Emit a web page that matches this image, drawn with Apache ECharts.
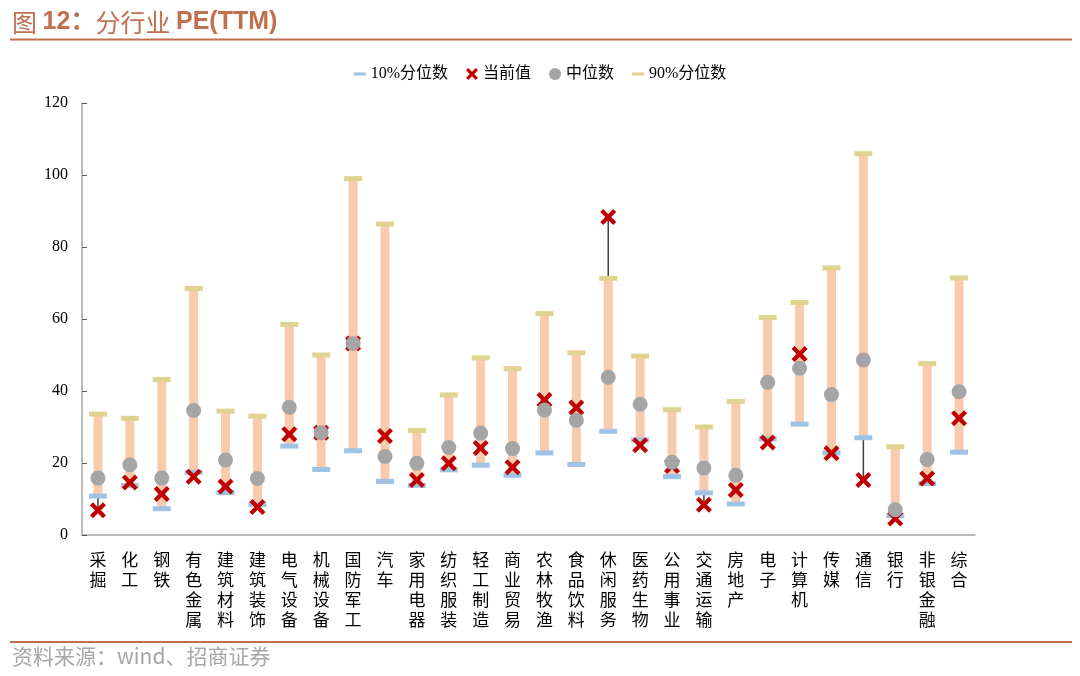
<!DOCTYPE html>
<html>
<head>
<meta charset="utf-8">
<script src="https://cdn.jsdelivr.net/npm/echarts@6/dist/echarts.min.js"></script>
<style>
  html, body { margin: 0; padding: 0; background: #fff; }
  #main { width: 1080px; height: 676px; }
</style>
</head>
<body>
<div id="main"></div>
<script>
var categories = ['采掘', '化工', '钢铁', '有色金属', '建筑材料', '建筑装饰', '电气设备', '机械设备', '国防军工', '汽车',
    '家用电器', '纺织服装', '轻工制造', '商业贸易', '农林牧渔', '食品饮料', '休闲服务', '医药生物', '公用事业', '交通运输',
    '房地产', '电子', '计算机', '传媒', '通信', '银行', '非银金融', '综合'];
var p10 = [10.8, 13.7, 7.3, 17.4, 11.8, 8.5, 24.7, 18.2, 23.4, 14.9, 13.8, 18.1, 19.4, 16.6, 22.8, 19.6, 28.8, 26.4, 16.2, 11.7,
    8.6, 26.7, 30.8, 22.8, 27.0, 5.4, 14.3, 23.0];
var current = [6.9, 14.6, 11.4, 16.2, 13.5, 7.8, 28.0, 28.4, 53.2, 27.5, 15.3, 19.9, 24.2, 18.8, 37.5, 35.4, 88.3, 24.9, 19.2, 8.4,
    12.5, 25.7, 50.3, 22.7, 15.3, 4.6, 15.7, 32.4];
var median = [15.8, 19.5, 15.8, 34.6, 20.8, 15.7, 35.5, 28.4, 53.2, 21.8, 19.9, 24.3, 28.3, 24.0, 34.7, 31.9, 43.8, 36.3, 20.2, 18.6,
    16.6, 42.4, 46.3, 39.0, 48.6, 7.0, 21.0, 39.8];
var p90 = [33.6, 32.4, 43.2, 68.5, 34.4, 33.0, 58.5, 50.0, 99.0, 86.4, 29.0, 38.9, 49.2, 46.2, 61.5, 50.6, 71.3, 49.7, 34.8, 30.0,
    37.1, 60.4, 64.6, 74.2, 105.9, 24.5, 47.6, 71.4];
var yTicks = [0, 20, 40, 60, 80, 100, 120];

var accent = '#c0704f';
var serif = "'Liberation Serif', 'Noto Sans CJK SC', serif";
var cross = 'path://M0,3L3,0L8,5L13,0L16,3L11,8L16,13L13,16L8,11L3,16L0,13L5,8Z';
var dash = 'path://M0,0L0,0M0,6L16,6L16,10L0,10ZM16,16L16,16';

var rangeData = categories.map(function (c, i) {
    var all = [p10[i], current[i], median[i], p90[i]];
    return [i, p10[i], p90[i], Math.min.apply(null, all), Math.max.apply(null, all)];
});

// black high-low line first, then the pink 10%-90% bar on top of it
function renderRange(params, api) {
    var x = api.value(0);
    var lo = api.coord([x, api.value(1)]);
    var hi = api.coord([x, api.value(2)]);
    var mn = api.coord([x, api.value(3)]);
    var mx = api.coord([x, api.value(4)]);
    var w = 9;
    return {
        type: 'group',
        children: [{
            type: 'line',
            shape: { x1: mn[0], y1: mn[1], x2: mx[0], y2: mx[1] },
            style: { stroke: '#404040', lineWidth: 1.5 }
        }, {
            type: 'rect',
            shape: { x: lo[0] - w / 2, y: hi[1], width: w, height: lo[1] - hi[1] },
            style: { fill: '#f8cbad' }
        }]
    };
}

var chart = echarts.init(document.getElementById('main'));
var option = {
    backgroundColor: '#fff',
    animation: false,
    graphic: [
        {
            type: 'text', left: 12, top: 10,
            style: {
                text: '{a|图 }{b|12：}{a|分行业 }{b|PE(TTM)}',
                rich: {
                    a: { fontSize: 25, fill: accent, fontFamily: "'Noto Sans CJK SC'" },
                    b: { fontSize: 25, fill: accent, fontWeight: 'bold', fontFamily: "'Liberation Sans', 'Noto Sans CJK SC'" }
                }
            }
        },
        { type: 'rect', shape: { x: 10, y: 38.5, width: 1062, height: 2 }, style: { fill: accent } },
        { type: 'rect', shape: { x: 10, y: 641, width: 1062, height: 2 }, style: { fill: accent } },
        {
            type: 'text', left: 12, top: 646,
            style: { text: '资料来源：wind、招商证券', fontSize: 21, fill: '#a6a6a6', fontFamily: "'Noto Sans CJK SC'" }
        }
    ],
    legend: {
        top: 61,
        left: 'center',
        itemWidth: 12,
        itemHeight: 12,
        itemGap: 18,
        textStyle: { fontSize: 16, color: '#000', fontFamily: serif },
        data: [
            { name: '10%分位数', icon: dash },
            { name: '当前值', icon: cross },
            { name: '中位数', icon: 'circle' },
            { name: '90%分位数', icon: dash }
        ]
    },
    grid: { left: 82, right: 105, top: 103, bottom: 141 },
    xAxis: {
        type: 'category',
        data: categories,
        boundaryGap: true,
        axisLine: { lineStyle: { color: '#a6a6a6', width: 1.5 } },
        axisTick: { inside: true, length: 5, lineStyle: { color: '#595959' } },
        axisLabel: {
            interval: 0,
            margin: 15,
            color: '#000',
            fontSize: 17,
            lineHeight: 20,
            fontFamily: "'Noto Sans CJK SC'",
            formatter: function (v) { return v.split('').join('\n'); }
        }
    },
    yAxis: {
        type: 'value',
        min: yTicks[0],
        max: yTicks[yTicks.length - 1],
        interval: 20,
        splitLine: { show: false },
        axisLine: { show: true, lineStyle: { color: '#a6a6a6', width: 1.5 } },
        axisTick: { show: true, inside: true, length: 5, lineStyle: { color: '#595959' } },
        axisLabel: { color: '#000', fontSize: 16, margin: 14, fontFamily: serif }
    },
    series: [
        {
            name: 'range',
            type: 'custom',
            renderItem: renderRange,
            data: rangeData,
            encode: { x: 0, y: [1, 2, 3, 4] },
            z: 1,
            silent: true
        },
        {
            name: '10%分位数', type: 'scatter', data: p10,
            symbol: 'rect', symbolSize: [18, 5],
            itemStyle: { color: '#9dc3e6', opacity: 1 }, z: 3
        },
        {
            name: '90%分位数', type: 'scatter', data: p90,
            symbol: 'rect', symbolSize: [18, 5],
            itemStyle: { color: '#e0d28f', opacity: 1 }, z: 3
        },
        {
            name: '当前值', type: 'scatter', data: current,
            symbol: cross, symbolSize: 16,
            itemStyle: { color: '#c00000', opacity: 1 }, z: 4
        },
        {
            name: '中位数', type: 'scatter', data: median,
            symbol: 'circle', symbolSize: 15,
            itemStyle: { color: '#a5a5a5', opacity: 1 }, z: 5
        }
    ]
};
chart.setOption(option);
</script>
</body>
</html>
